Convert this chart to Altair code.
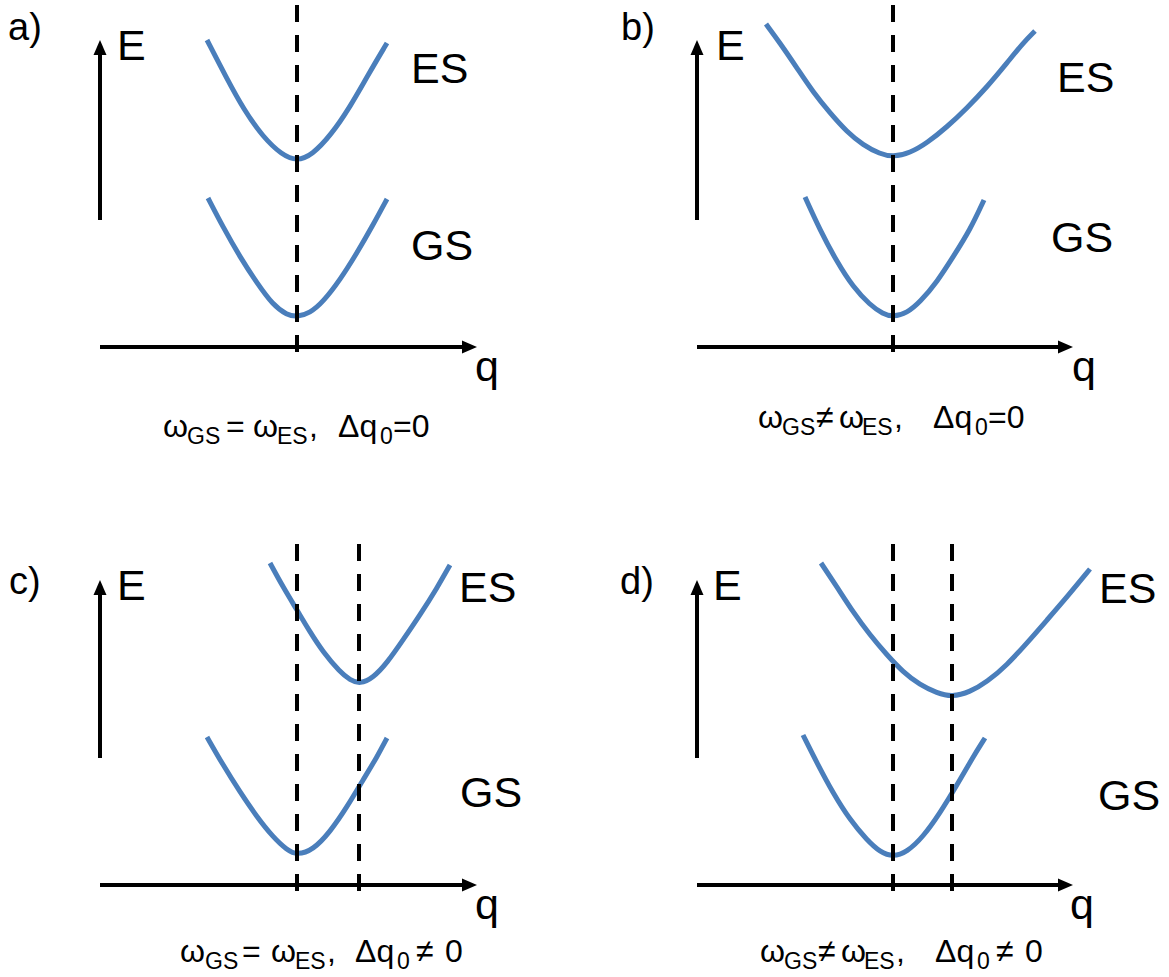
import altair as alt
import pandas as pd

W, H = 1169, 977

# ---- panel frames: pixel position of the corner where the E-axis meets the q-axis
panel_ids = ["a", "b", "c", "d"]
origin_x = [100, 697, 100, 697]
origin_y = [347, 347, 885, 885]

# ---- potential curves in panel coordinates (q to the right of the E-axis, E above the q-axis)
es_a_q = [107, 126, 144, 163, 182, 197, 212, 231, 250, 268, 287]
es_a_E = [307, 270, 237, 210, 192, 186, 192, 212, 240, 272, 304]
gs_a_q = [108, 123, 140, 157, 173, 187, 197, 210, 223, 240, 257, 273, 287]
gs_a_E = [149, 120, 90, 64, 42, 32, 30, 34, 45, 67, 94, 122, 148]

es_b_q = [69, 83, 100, 116, 133, 150, 166, 183, 196, 213, 230, 250, 270, 290, 310, 326, 338]
es_b_E = [323, 304, 279, 255, 234, 215, 202, 193, 190, 194, 204, 220, 239, 260, 284, 304, 316]
gs_b_q = [108, 123, 140, 156, 173, 186, 196, 210, 223, 240, 256, 273, 287]
gs_b_E = [150, 117, 85, 60, 42, 33, 30, 34, 45, 65, 90, 117, 147]

es_c_q = [170, 183, 197, 210, 223, 240, 250, 260, 273, 287, 303, 320, 337, 350]
es_c_E = [322, 298, 275, 253, 233, 213, 205, 201, 207, 222, 245, 270, 297, 320]
gs_c_q = [107, 123, 140, 157, 173, 187, 197, 213, 230, 247, 263, 277, 287]
gs_c_E = [148, 120, 93, 68, 48, 35, 30, 35, 53, 78, 105, 128, 147]

es_d_q = [124, 140, 156, 173, 190, 206, 223, 240, 255, 273, 290, 310, 330, 350, 370, 393]
es_d_E = [322, 298, 273, 250, 230, 213, 200, 192, 188, 193, 203, 220, 242, 265, 288, 316]
gs_d_q = [106, 120, 136, 153, 170, 183, 196, 210, 226, 243, 260, 276, 288]
gs_d_E = [150, 122, 92, 65, 45, 33, 28, 33, 48, 72, 100, 128, 147]

curves = {
    "a": [(es_a_q, es_a_E), (gs_a_q, gs_a_E)],
    "b": [(es_b_q, es_b_E), (gs_b_q, gs_b_E)],
    "c": [(es_c_q, es_c_E), (gs_c_q, gs_c_E)],
    "d": [(es_d_q, es_d_E), (gs_d_q, gs_d_E)],
}

# equilibrium positions (dashed guides)
eq_positions = {"a": [197], "b": [196], "c": [197, 259], "d": [196, 255]}
dash_top = [342, 342, 341, 341]
dash_bottom = [-18, -18, -18, -18]

# axis arrows
e_axis_from = [127, 127, 127, 127]
e_axis_to = [307, 307, 305, 305]
q_axis_to = [377, 376, 377, 376]

# labels
panel_label = ["a)", "b)", "c)", "d)"]
panel_label_q = [-92, -76, -91, -77]
panel_label_E = [307, 307, 291, 291]
e_label_q = [17, 19, 17, 16]
e_label_E = [287, 287, 285, 285]
es_label_q = [311, 360, 359, 402]
es_label_E = [264, 255, 283, 282]
gs_label_q = [311, 354, 360, 401]
gs_label_E = [87, 95, 78, 75]
q_label_q = [375, 375, 375, 373]
q_label_E = [-34, -34, -34, -34]

# captions: pieces (text, offset from caption start, subscript?)
caption_start_q = [63, 61, 80, 63]
caption_E = [-90, -81, -77, -77]
caption_pieces = {
    "a": [("ω", 0, 0), ("GS", 24, 1), ("=", 63, 0), ("ω", 90, 0), ("ES", 114, 1),
          (",", 146, 0), ("Δq", 175, 0), ("0", 217, 1), ("=0", 230, 0)],
    "b": [("ω", 0, 0), ("GS", 24, 1), ("≠", 58, 0), ("ω", 81, 0), ("ES", 104, 1),
          (",", 136, 0), ("Δq", 175, 0), ("0", 217, 1), ("=0", 230, 0)],
    "c": [("ω", 0, 0), ("GS", 25, 1), ("=", 62, 0), ("ω", 91, 0), ("ES", 115, 1),
          (",", 147, 0), ("Δq", 175, 0), ("0", 217, 1), ("≠", 236, 0), ("0", 265, 0)],
    "d": [("ω", 0, 0), ("GS", 24, 1), ("≠", 58, 0), ("ω", 81, 0), ("ES", 104, 1),
          (",", 136, 0), ("Δq", 175, 0), ("0", 217, 1), ("≠", 236, 0), ("0", 265, 0)],
}

BLUE = "#4A7EBB"
FONT = "Liberation Sans"
BIG, LABEL, CAP, SUB, SUB_DROP = 43, 38, 32, 23, 7


def gx(i, q):
    return origin_x[i] + q


def gy(i, E):
    return H - (origin_y[i] - E)


# ---- build tables
curve_rows, dash_rows, shaft_rows, up_rows, right_rows, text_rows = [], [], [], [], [], []
for i, p in enumerate(panel_ids):
    for k, (qs, Es) in enumerate(curves[p]):
        for j, (q, E) in enumerate(zip(qs, Es)):
            curve_rows.append({"cid": f"{p}{k}", "i": j, "X": gx(i, q), "Y": gy(i, E)})
    for q in eq_positions[p]:
        dash_rows.append({"X": gx(i, q), "Y": gy(i, dash_top[i]), "Y2": gy(i, dash_bottom[i])})
    shaft_rows.append({"X": gx(i, 0), "X2": gx(i, 0),
                       "Y": gy(i, e_axis_from[i]), "Y2": gy(i, e_axis_to[i] - 12)})
    shaft_rows.append({"X": gx(i, 0), "X2": gx(i, q_axis_to[i] - 12),
                       "Y": gy(i, 0), "Y2": gy(i, 0)})
    up_rows.append({"X": gx(i, 0), "Y": gy(i, e_axis_to[i])})
    right_rows.append({"X": gx(i, q_axis_to[i]), "Y": gy(i, 0)})
    text_rows += [
        {"t": panel_label[i], "X": gx(i, panel_label_q[i]), "Y": gy(i, panel_label_E[i]), "fs": LABEL},
        {"t": "E", "X": gx(i, e_label_q[i]), "Y": gy(i, e_label_E[i]), "fs": BIG},
        {"t": "ES", "X": gx(i, es_label_q[i]), "Y": gy(i, es_label_E[i]), "fs": BIG},
        {"t": "GS", "X": gx(i, gs_label_q[i]), "Y": gy(i, gs_label_E[i]), "fs": BIG},
        {"t": "q", "X": gx(i, q_label_q[i]), "Y": gy(i, q_label_E[i]), "fs": BIG},
    ]
    for t, off, sub in caption_pieces[p]:
        text_rows.append({
            "t": t,
            "X": gx(i, caption_start_q[i] + off),
            "Y": gy(i, caption_E[i] - (SUB_DROP if sub else 0)),
            "fs": SUB if sub else CAP,
        })

curve_df = pd.DataFrame(curve_rows)
dash_df = pd.DataFrame(dash_rows)
shaft_df = pd.DataFrame(shaft_rows)
up_df = pd.DataFrame(up_rows)
right_df = pd.DataFrame(right_rows)
text_df = pd.DataFrame(text_rows)

xs = alt.Scale(domain=[0, W], nice=False, zero=False)
ys = alt.Scale(domain=[0, H], nice=False, zero=False)
X = alt.X("X:Q", scale=xs, axis=None)
Y = alt.Y("Y:Q", scale=ys, axis=None)

curves_layer = alt.Chart(curve_df).mark_line(
    interpolate="basis", color=BLUE, strokeWidth=5, strokeCap="butt"
).encode(x=X, y=Y, detail="cid:N", order="i:Q")

dash_layer = alt.Chart(dash_df).mark_rule(
    color="black", strokeWidth=4, strokeDash=[17, 13], strokeCap="butt"
).encode(x=X, y=Y, y2="Y2:Q")

shaft_layer = alt.Chart(shaft_df).mark_rule(
    color="black", strokeWidth=4, strokeCap="butt"
).encode(x=X, x2="X2:Q", y=Y, y2="Y2:Q")

up_layer = alt.Chart(up_df).mark_point(
    shape="M0,0L6.5,15L-6.5,15Z", size=4, filled=True, color="black", opacity=1, strokeWidth=0
).encode(x=X, y=Y)

right_layer = alt.Chart(right_df).mark_point(
    shape="M0,0L-15,-6.5L-15,6.5Z", size=4, filled=True, color="black", opacity=1, strokeWidth=0
).encode(x=X, y=Y)

text_layer = alt.Chart(text_df).mark_text(
    align="left", baseline="alphabetic", font=FONT, color="black"
).encode(x=X, y=Y, text="t:N", size=alt.Size("fs:Q", scale=None))

chart = alt.layer(
    curves_layer, dash_layer, shaft_layer, up_layer, right_layer, text_layer
).properties(
    width=W, height=H, padding=0, autosize="none", background="white"
).configure_view(stroke=None)

chart.save("out.html", embed_options={"renderer": "svg", "actions": False})
